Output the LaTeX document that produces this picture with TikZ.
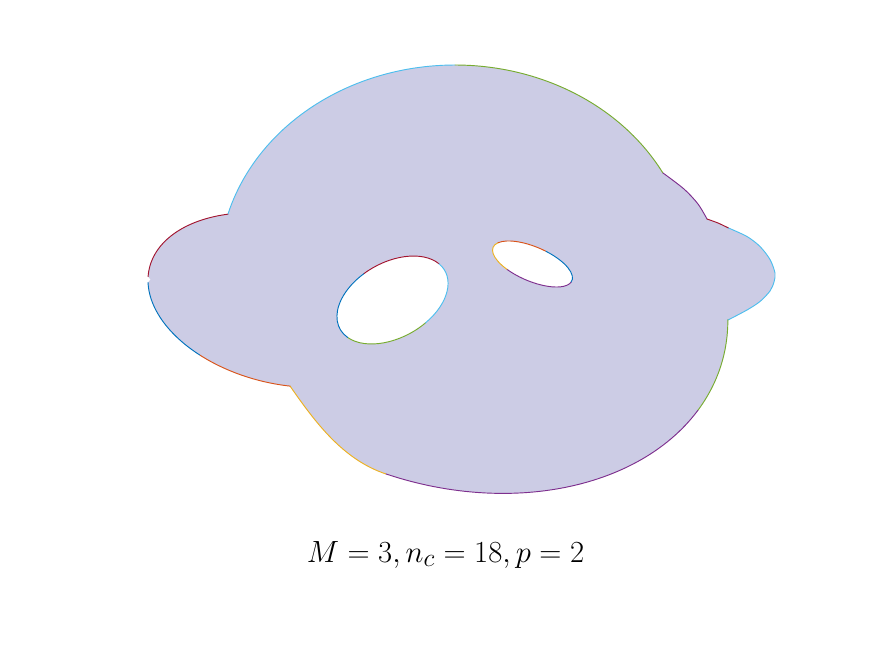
\documentclass[tikz,border=0pt]{standalone}
\definecolor{cBlue}{rgb}{0,0.447,0.741}
\definecolor{cOrange}{rgb}{0.85,0.325,0.098}
\definecolor{cYellow}{rgb}{0.929,0.694,0.125}
\definecolor{cPurple}{rgb}{0.494,0.184,0.556}
\definecolor{cGreen}{rgb}{0.466,0.674,0.188}
\definecolor{cCyan}{rgb}{0.301,0.745,0.933}
\definecolor{cDarkRed}{rgb}{0.635,0.078,0.184}
\definecolor{regionfill}{rgb}{0.8,0.8,0.9}
\begin{document}
\begin{tikzpicture}[x=0.75pt, y=-0.75pt,
  seg/.style={line width=0.7pt, line join=round, line cap=round},
  hole/.style={fill=white},
  declare function={ex(\s,\ox,\rx,\ry,\tl)=\ox+\rx*cos(\s)*cos(\tl)-\ry*sin(\s)*sin(\tl);
                    ey(\s,\oy,\rx,\ry,\tl)=\oy+\rx*cos(\s)*sin(\tl)+\ry*sin(\s)*cos(\tl);}]

	\useasboundingbox (0,0) rectangle (875,656);

	% region
	\fill[regionfill]
	plot[domain=-164.2:-28.2, samples=80, variable=\s] ({ex(\s,455,236,205,0)}, {ey(\s,270,236,205,0)})
	-- plot[smooth] coordinates {(663,173) (684,189) (698,204) (707,219)}
	-- plot[smooth] coordinates {(707,219) (718,223) (728.5,228)}
	-- plot[smooth] coordinates {(728.5,228) (747,236.5) (760,246.5) (770,259.5) (775,273) (774,282) (770,291) (760,301.5) (747,310) (728,320)}
	-- plot[domain=-12.2:93.2, samples=80, variable=\s] ({ex(\s,457,276,201.6,16.3)}, {ey(\s,285,276,201.6,16.3)})
	.. controls (343,459.5) and (315.7,423) .. (290,386)
	-- plot[domain=78.1:170, samples=60, variable=\s] ({ex(\s,282,136.4,83.6,13.6)}, {ey(\s,300,136.4,83.6,13.6)})
	-- (150.5,279.5)
	-- plot[domain=174:237.8, samples=40, variable=\s] ({ex(\s,282,136.4,83.6,13.6)}, {ey(\s,300,136.4,83.6,13.6)})
	-- cycle;

	% outer boundary
	\draw[seg, cCyan] plot[domain=-164.2:-90, samples=50, variable=\s] ({ex(\s,455,236,205,0)}, {ey(\s,270,236,205,0)});
	\draw[seg, cGreen] plot[domain=-90:-28.2, samples=50, variable=\s] ({ex(\s,455,236,205,0)}, {ey(\s,270,236,205,0)});
	\draw[seg, cPurple] plot[smooth] coordinates {(663,173) (684,189) (698,204) (707,219)};
	\draw[seg, cDarkRed] plot[smooth] coordinates {(707,219) (718,223) (728.5,228)};
	\draw[seg, cCyan] plot[smooth] coordinates {(728.5,228) (747,236.5) (760,246.5) (770,259.5) (775,273) (774,282) (770,291) (760,301.5) (747,310) (728,320)};
	\draw[seg, cGreen] plot[domain=-12.2:15.1, samples=25, variable=\s] ({ex(\s,457,276,201.6,16.3)}, {ey(\s,285,276,201.6,16.3)});
	\draw[seg, cPurple] plot[domain=15.1:93.2, samples=60, variable=\s] ({ex(\s,457,276,201.6,16.3)}, {ey(\s,285,276,201.6,16.3)});
	\draw[seg, cYellow] (385.7,473.9) .. controls (343,459.5) and (315.7,423) .. (290,386);
	\draw[seg, cOrange] plot[domain=78.1:119.4, samples=30, variable=\s] ({ex(\s,282,136.4,83.6,13.6)}, {ey(\s,300,136.4,83.6,13.6)});
	\draw[seg, cBlue] plot[domain=119.4:170, samples=30, variable=\s] ({ex(\s,282,136.4,83.6,13.6)}, {ey(\s,300,136.4,83.6,13.6)});
	\draw[seg, cDarkRed] plot[domain=174:237.8, samples=40, variable=\s] ({ex(\s,282,136.4,83.6,13.6)}, {ey(\s,300,136.4,83.6,13.6)});

	% first hole
	\begin{scope}[shift={(392.5,300)}, rotate=29]
		\fill[hole] (0,0) ellipse [x radius=60, y radius=37.7];
		\draw[seg, cDarkRed] (-102:60 and 37.7) arc [start angle=-102, end angle=-14, x radius=60, y radius=37.7];
		\draw[seg, cCyan] (-14:60 and 37.7) arc [start angle=-14, end angle=73, x radius=60, y radius=37.7];
		\draw[seg, cGreen] (73:60 and 37.7) arc [start angle=73, end angle=163, x radius=60, y radius=37.7];
		\draw[seg, cBlue] (163:60 and 37.7) arc [start angle=163, end angle=258, x radius=60, y radius=37.7];
	\end{scope}

	% second hole
	\begin{scope}[shift={(532.5,264)}, rotate=-23]
		\fill[hole] (0,0) ellipse [x radius=42.8, y radius=17.2];
		\draw[seg, cOrange] (-160:42.8 and 17.2) arc [start angle=-160, end angle=-80, x radius=42.8, y radius=17.2];
		\draw[seg, cBlue] (-80:42.8 and 17.2) arc [start angle=-80, end angle=6, x radius=42.8, y radius=17.2];
		\draw[seg, cPurple] (6:42.8 and 17.2) arc [start angle=6, end angle=120, x radius=42.8, y radius=17.2];
		\draw[seg, cYellow] (120:42.8 and 17.2) arc [start angle=120, end angle=200, x radius=42.8, y radius=17.2];
	\end{scope}

	\node (caption) [anchor=base, inner sep=0pt, scale=0.925] at (445.5,562) {\Huge $M = 3, n_c = 18, p = 2$};

\end{tikzpicture}
\end{document}
